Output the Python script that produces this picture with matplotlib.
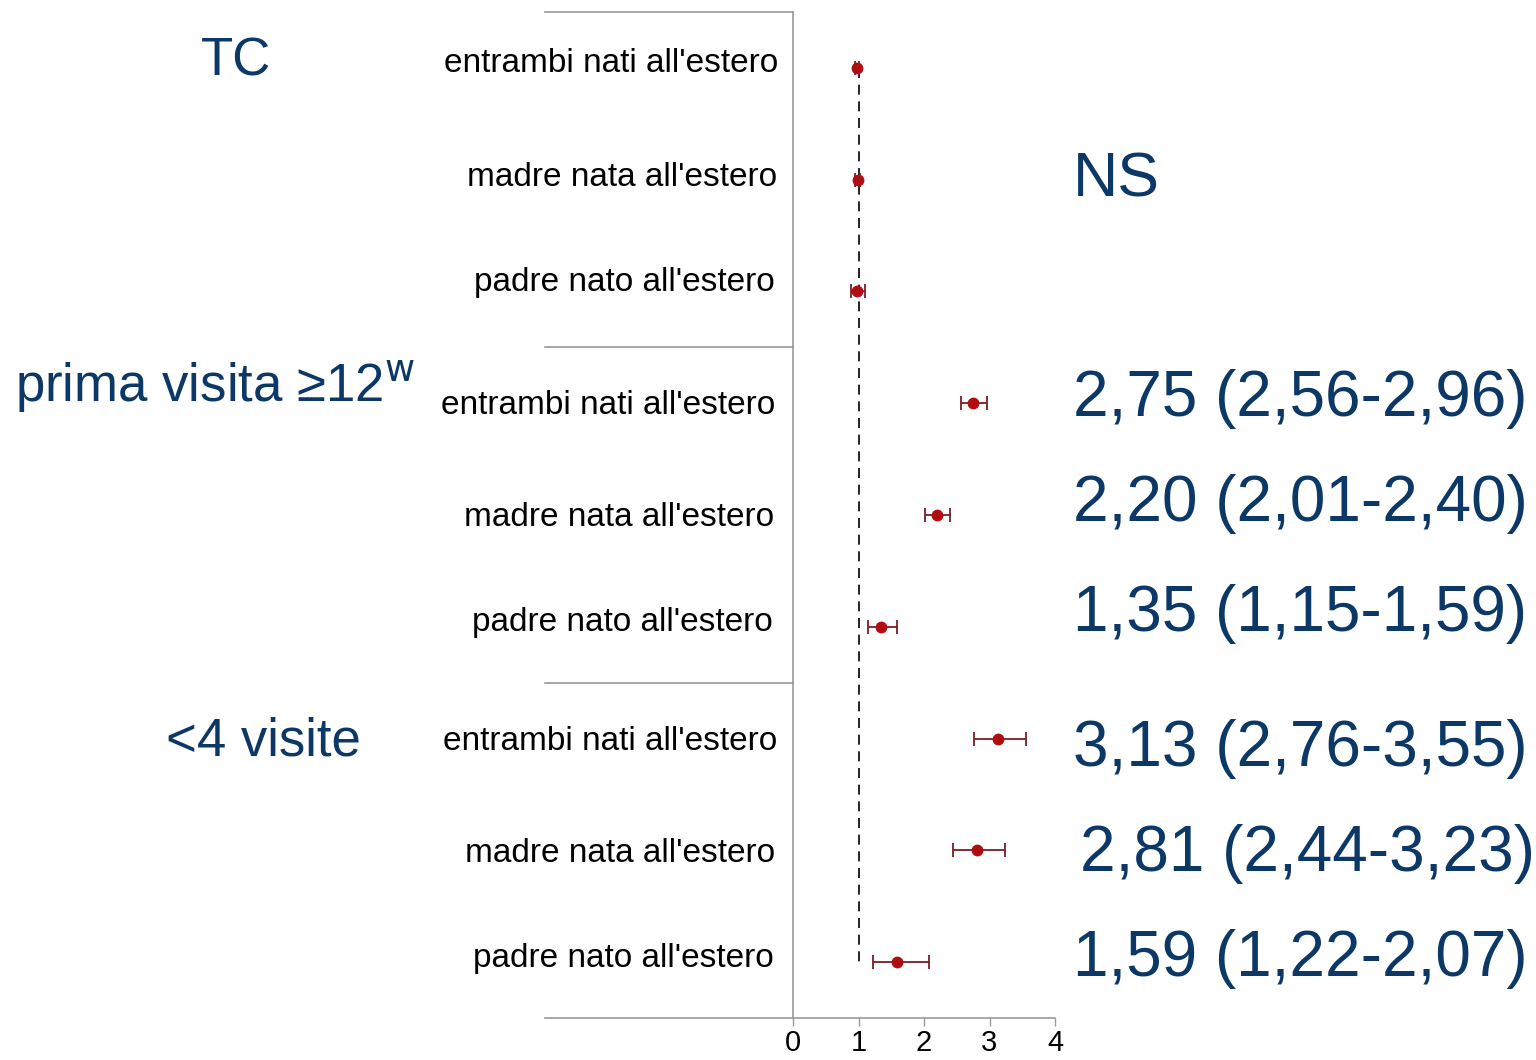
import matplotlib.pyplot as plt
import matplotlib.transforms as mtransforms
import numpy as np

plt.rcParams['font.family'] = ['Liberation Sans', 'DejaVu Sans']

# dati (OR e IC 95%)
row_labels = ["entrambi nati all'estero", "madre nata all'estero", "padre nato all'estero"] * 3
or_vals = [0.97, 0.99, 0.97, 2.75, 2.20, 1.35, 3.13, 2.81, 1.59]
ci_low = [0.94, 0.95, 0.88, 2.56, 2.01, 1.15, 2.76, 2.44, 1.22]
ci_high = [1.01, 1.03, 1.10, 2.96, 2.40, 1.59, 3.55, 3.23, 2.07]
group_labels = ["TC", "prima visita ≥12$^{\\mathrm{w}}$", "<4 visite"]
or_texts = ["2,75 (2,56-2,96)", "2,20 (2,01-2,40)", "1,35 (1,15-1,59)",
            "3,13 (2,76-3,55)", "2,81 (2,44-3,23)", "1,59 (1,22-2,07)"]
x_ticks = [0, 1, 2, 3, 4]

W, H = 1536, 1060
blue = '#0B3866'
red = '#B00D12'
grey = '#9A9A9A'

fig = plt.figure(figsize=(W / 100, H / 100), dpi=100)
ax = fig.add_axes([793 / W, 42 / H, 262 / W, 1006 / H])

y = np.arange(len(or_vals))
or_arr = np.array(or_vals)
err = [or_arr - np.array(ci_low), np.array(ci_high) - or_arr]

ax.plot([1, 1], [0, 8.05], color='black', lw=1.2, ls=(0, (6, 4)), zorder=1)
ax.errorbar(or_vals, y, xerr=err, fmt='o', color=red, ecolor='#7A1F22',
            elinewidth=1.3, capsize=5, capthick=1.3, markersize=7.5, zorder=3)

ax.set_xlim(0, 4)
ax.set_ylim(8.5, -0.5)
ax.set_yticks([])
ax.set_xticks(x_ticks)
ax.set_xticklabels([str(t) for t in x_ticks], fontsize=21)
ax.tick_params(axis='x', length=6, color=grey, pad=2, width=1)
for s in ['top', 'right']:
    ax.spines[s].set_visible(False)
for s in ['left', 'bottom']:
    ax.spines[s].set_color(grey)
    ax.spines[s].set_linewidth(1.2)

# linee separatrici dei gruppi
trans = mtransforms.blended_transform_factory(ax.transAxes, ax.transData)
left_ext = (545 - 793) / 262
for yy in [-0.5, 2.5, 5.5, 8.5]:
    ax.plot([left_ext, 0], [yy, yy], color=grey, lw=1.2, transform=trans, clip_on=False)

# etichette delle righe (posizioni in pixel come nella slide)
label_y = [64, 177, 283, 405, 518, 623, 742, 854, 959]
label_x = [778, 777, 775, 775, 774, 773, 777, 775, 774]
for lab, lx, ly in zip(row_labels, label_x, label_y):
    fig.text(lx / W, 1 - ly / H, lab, ha='right', va='center', fontsize=24, color='black')

# etichette dei gruppi
fig.text(236 / W, 1 - 61 / H, group_labels[0], ha='center', va='center', fontsize=38, color=blue)
fig.text(15 / W, 1 - 387 / H, group_labels[1], ha='left', va='center', fontsize=38, color=blue)
fig.text(263 / W, 1 - 741 / H, group_labels[2], ha='center', va='center', fontsize=38, color=blue)

# OR a destra
fig.text(1073 / W, 1 - 180 / H, "NS", ha='left', va='center', fontsize=45, color=blue)
text_y = [399, 504, 614, 749, 854, 959]
text_x = [1073, 1073, 1073, 1073, 1080, 1073]
for t, tx, ty in zip(or_texts, text_x, text_y):
    fig.text(tx / W, 1 - ty / H, t, ha='left', va='center', fontsize=46, color=blue)

fig.savefig('out.png', dpi=100, facecolor='white')
